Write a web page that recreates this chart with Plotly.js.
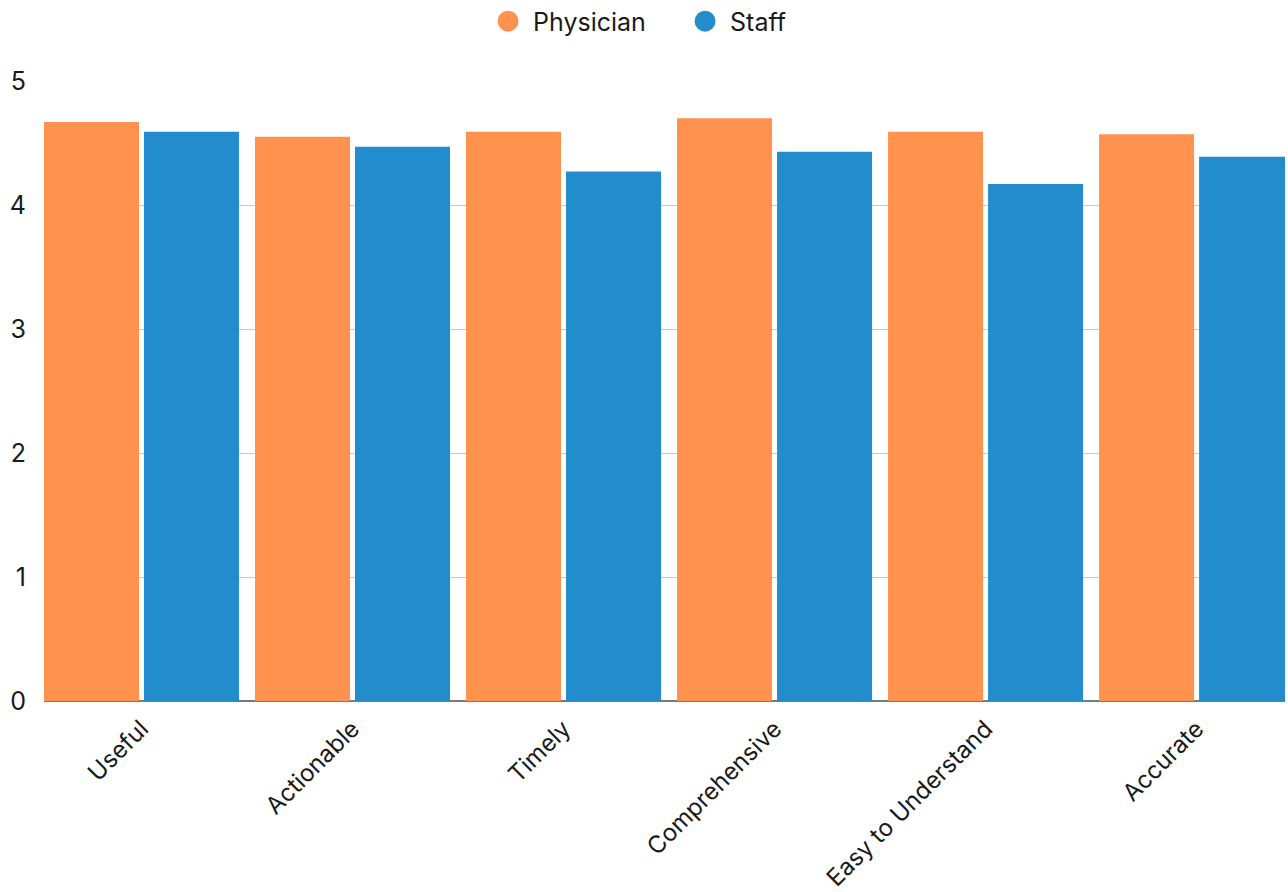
<!DOCTYPE html>
<html>
<head>
<meta charset="utf-8">
<script src="https://cdn.plot.ly/plotly-3.0.1.min.js"></script>
<style>html,body{margin:0;padding:0;background:#fff;}#chart{width:1288px;height:892px;}</style>
</head>
<body>
<div id="chart"></div>
<script>
const categories = ["Useful", "Actionable", "Timely", "Comprehensive", "Easy to Understand", "Accurate"];
const physician = [4.67, 4.55, 4.59, 4.70, 4.59, 4.57];
const staff = [4.59, 4.47, 4.27, 4.43, 4.17, 4.39];
const yTicks = [0, 1, 2, 3, 4, 5];
const seriesNames = ["Physician", "Staff"];
const colors = ["#FF924E", "#238CCD"];

const font = "Inter, 'Noto Sans', sans-serif";

const data = [
  {type: "bar", x: categories, y: physician, name: seriesNames[0], marker: {color: colors[0]}, showlegend: false, hoverinfo: "x+y"},
  {type: "bar", x: categories, y: staff, name: seriesNames[1], marker: {color: colors[1]}, showlegend: false, hoverinfo: "x+y"},
  {type: "scatter", mode: "markers", x: [null], y: [null], name: seriesNames[0], marker: {color: colors[0], size: 16, line: {color: colors[0], width: 5}}, showlegend: true},
  {type: "scatter", mode: "markers", x: [null], y: [null], name: seriesNames[1], marker: {color: colors[1], size: 16, line: {color: colors[1], width: 5}}, showlegend: true}
];

const layout = {
  width: 1288, height: 892,
  margin: {l: 44, r: 3, t: 81, b: 191, pad: 0},
  paper_bgcolor: "#fff", plot_bgcolor: "#fff",
  font: {family: font, color: "#1a1a1a", size: 24},
  barmode: "group",
  bargap: 0.052,
  bargroupgap: 0.05,
  showlegend: true,
  legend: {orientation: "h", xref: "container", yref: "container", x: 0.528, xanchor: "center", y: 0.976, yanchor: "middle", font: {size: 25, color: "#1a1a1a"}, itemwidth: 40, entrywidth: 142, entrywidthmode: "pixels"},
  xaxis: {type: "category", range: [-0.462, 5.419], tickangle: -45, tickfont: {size: 24}, showgrid: false, zeroline: false, showline: false, ticks: "", ticklabelstandoff: 8, fixedrange: true},
  yaxis: {range: [0, 5], tickvals: yTicks, ticktext: yTicks.map(String), tickfont: {size: 25}, showgrid: true, gridcolor: "#c8c8c8", gridwidth: 1, zeroline: true, zerolinecolor: "#7a7a7a", zerolinewidth: 2, showline: false, ticks: "", ticklabelstandoff: 17, fixedrange: true}
};

Plotly.newPlot("chart", data, layout, {displayModeBar: false, staticPlot: true});
</script>
</body>
</html>
